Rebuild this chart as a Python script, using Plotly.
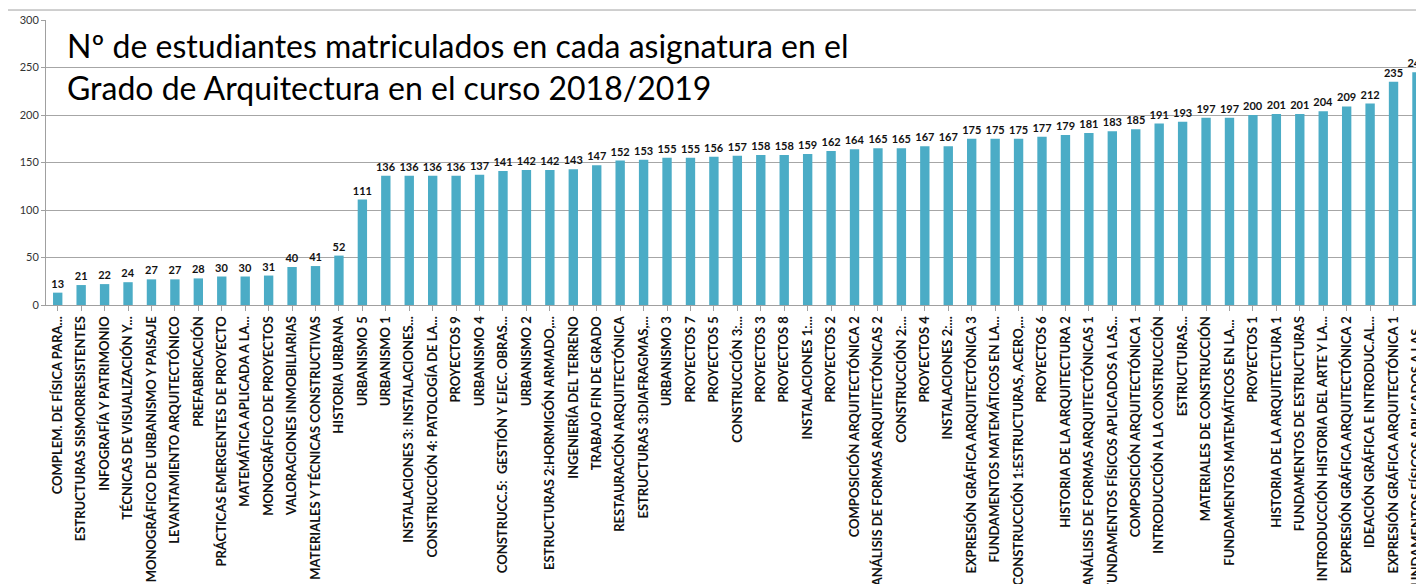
import plotly.graph_objects as go

categories = [
    "COMPLEM. DE FÍSICA PARA...", "ESTRUCTURAS SISMORRESISTENTES", "INFOGRAFÍA Y PATRIMONIO",
    "TÉCNICAS DE VISUALIZACIÓN Y...", "MONOGRÁFICO DE URBANISMO Y PAISAJE", "LEVANTAMIENTO ARQUITECTÓNICO",
    "PREFABRICACIÓN", "PRÁCTICAS EMERGENTES DE PROYECTO", "MATEMÁTICA APLICADA A LA...",
    "MONOGRÁFICO DE PROYECTOS", "VALORACIONES INMOBILIARIAS", "MATERIALES Y TÉCNICAS CONSTRUCTIVAS",
    "HISTORIA URBANA", "URBANISMO 5", "URBANISMO 1", "INSTALACIONES 3: INSTALACIONES...",
    "CONSTRUCCIÓN 4: PATOLOGÍA DE LA...", "PROYECTOS 9", "URBANISMO 4",
    "CONSTRUCC.5:  GESTIÓN Y EJEC. OBRAS...", "URBANISMO 2", "ESTRUCTURAS 2:HORMIGÓN ARMADO,...",
    "INGENIERÍA DEL TERRENO", "TRABAJO FIN DE GRADO", "RESTAURACIÓN ARQUITECTÓNICA",
    "ESTRUCTURAS 3:DIAFRAGMAS,...", "URBANISMO 3", "PROYECTOS 7", "PROYECTOS 5",
    "CONSTRUCCIÓN 3:...", "PROYECTOS 3", "PROYECTOS 8", "INSTALACIONES 1:...", "PROYECTOS 2",
    "COMPOSICIÓN ARQUITECTÓNICA 2", "ANÁLISIS DE FORMAS ARQUITECTÓNICAS 2", "CONSTRUCCIÓN 2:...",
    "PROYECTOS 4", "INSTALACIONES 2:...", "EXPRESIÓN GRÁFICA ARQUITECTÓNICA 3",
    "FUNDAMENTOS MATEMÁTICOS EN LA...", "CONSTRUCCIÓN 1:ESTRUCTURAS, ACERO,...", "PROYECTOS 6",
    "HISTORIA DE LA ARQUITECTURA 2", "ANÁLISIS DE FORMAS ARQUITECTÓNICAS 1",
    "FUNDAMENTOS FÍSICOS APLICADOS A LAS...", "COMPOSICIÓN ARQUITECTÓNICA 1",
    "INTRODUCCIÓN A LA CONSTRUCCIÓN", "ESTRUCTURAS...", "MATERIALES DE CONSTRUCCIÓN",
    "FUNDAMENTOS MATEMÁTICOS EN LA... ", "PROYECTOS 1", "HISTORIA DE LA ARQUITECTURA 1",
    "FUNDAMENTOS DE ESTRUCTURAS", "INTRODUCCIÓN HISTORIA DEL ARTE Y LA...",
    "EXPRESIÓN GRÁFICA ARQUITECTÓNICA 2", "IDEACIÓN GRÁFICA E INTRODUC.AL...",
    "EXPRESIÓN GRÁFICA ARQUITECTÓNICA 1", "FUNDAMENTOS FÍSICOS APLICADOS A LAS... ",
]

students = [
    13, 21, 22, 24, 27, 27, 28, 30, 30, 31, 40, 41, 52, 111, 136, 136, 136, 136, 137, 141,
    142, 142, 143, 147, 152, 153, 155, 155, 156, 157, 158, 158, 159, 162, 164, 165, 165, 167,
    167, 175, 175, 175, 177, 179, 181, 183, 185, 191, 193, 197, 197, 200, 201, 201, 204, 209,
    212, 235, 245,
]

y_ticks = [0, 50, 100, 150, 200, 250, 300]

title_text = ("Nº de estudiantes matriculados en cada asignatura en el<br>"
              "Grado de Arquitectura en el curso 2018/2019")

fig = go.Figure()
fig.add_trace(go.Bar(
    x=list(range(len(categories))),
    y=students,
    marker=dict(color="#4BACC6", line=dict(width=0)),
    text=[str(v) for v in students],
    textposition="outside",
    constraintext="none",
    textfont=dict(family="Lato", size=11, color="#111111", weight="bold"),
    cliponaxis=False,
    hovertext=categories,
))

fig.update_layout(
    width=1424, height=584,
    margin=dict(l=38, r=8, t=12, b=287),
    paper_bgcolor="white", plot_bgcolor="white",
    bargap=0.6,
    showlegend=False,
    font=dict(family="Lato", color="#333333"),
    xaxis=dict(
        tickmode="array",
        tickvals=list(range(len(categories))),
        ticktext=categories,
        tickangle=-90,
        range=[-0.5, 58.3],
        tickfont=dict(family="Lato", size=13, color="#111111", weight="bold"),
        showline=True, linecolor="#A0A0A0", linewidth=1,
        ticks="outside", ticklen=5, tickcolor="#A0A0A0", tickson="boundaries",
        showgrid=False, automargin=False,
    ),
    yaxis=dict(
        range=[0, 300],
        tickmode="array", tickvals=y_ticks,
        tickfont=dict(family="Lato", size=11, color="#333333"),
        showgrid=True, gridcolor="#A6A6A6", gridwidth=1,
        showline=True, linecolor="#A0A0A0", linewidth=1,
        ticks="outside", ticklen=4, tickcolor="#A0A0A0",
        zeroline=False, automargin=False,
    ),
    annotations=[dict(
        text=title_text, xref="paper", yref="paper",
        x=0.014, y=0.985, xanchor="left", yanchor="top",
        showarrow=False, align="left",
        font=dict(family="Lato", size=32, color="#000000"),
    )],
    shapes=[dict(
        type="line", xref="paper", yref="paper",
        x0=-0.03, x1=1.0, y0=1.035, y1=1.035,
        line=dict(color="#A0A0A0", width=1),
    )],
)

fig.write_html("out.html")
